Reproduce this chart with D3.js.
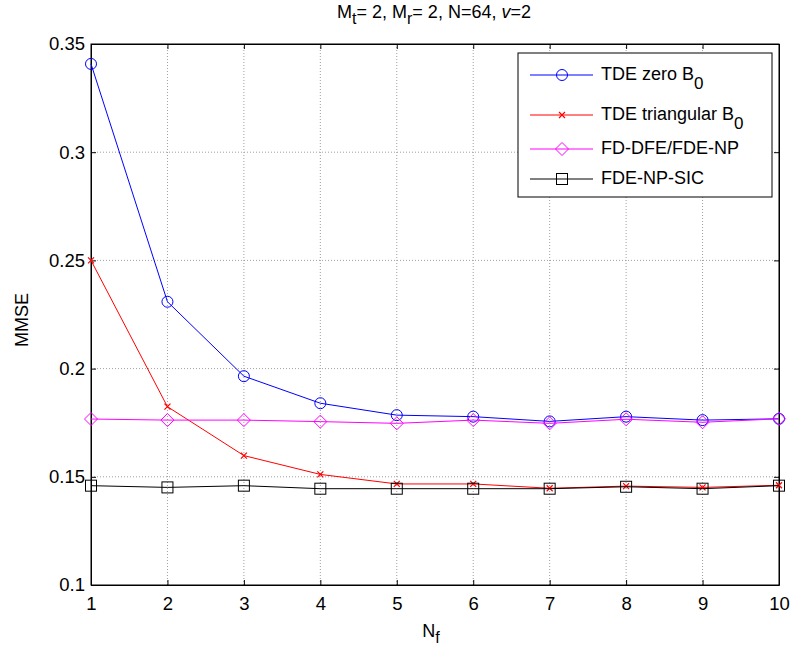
<!DOCTYPE html>
<html>
<head>
<meta charset="utf-8">
<script src="https://cdnjs.cloudflare.com/ajax/libs/d3/7.8.5/d3.min.js"></script>
<style>
  body { margin: 0; background: #fff; }
  text { font-family: "Liberation Sans", Arial, sans-serif; fill: #000; }
</style>
</head>
<body>
<div id="chart"></div>
<script>
// data
const nf = [1, 2, 3, 4, 5, 6, 7, 8, 9, 10];
const tdeZero = [0.3408, 0.2309, 0.1965, 0.1840, 0.1785, 0.1778, 0.1756, 0.1778, 0.1762, 0.1768];
const tdeTriangular = [0.2500, 0.1824, 0.1598, 0.1511, 0.1467, 0.1467, 0.1447, 0.1457, 0.1451, 0.1461];
const fdDfe = [0.1767, 0.1762, 0.1762, 0.1755, 0.1747, 0.1762, 0.1747, 0.1766, 0.1752, 0.1768];
const fdeSic = [0.1459, 0.1451, 0.1459, 0.1445, 0.1445, 0.1445, 0.1445, 0.1454, 0.1445, 0.1459];
const yTicks = [0.1, 0.15, 0.2, 0.25, 0.3, 0.35];
const yTickLabels = ["0.1", "0.15", "0.2", "0.25", "0.3", "0.35"];

const series = [
    {name: "TDE zero B", sub: "0", values: tdeZero, color: "#0000ff", marker: "circle"},
    {name: "TDE triangular B", sub: "0", values: tdeTriangular, color: "#ff0000", marker: "x"},
    {name: "FD-DFE/FDE-NP", sub: "", values: fdDfe, color: "#ff00ff", marker: "diamond"},
    {name: "FDE-NP-SIC", sub: "", values: fdeSic, color: "#000000", marker: "square"}
];

const W = 793, H = 654;
const margin = {top: 44, right: 14, bottom: 69, left: 91};
const width = W - margin.left - margin.right;
const height = H - margin.top - margin.bottom;

const svg = d3.select("#chart").append("svg")
    .attr("width", W)
    .attr("height", H);

const g = svg.append("g")
    .attr("transform", `translate(${margin.left},${margin.top})`);

// scales
const x = d3.scaleLinear().domain([1, 10]).range([0, width]);
const y = d3.scaleLinear().domain([0.1, 0.35]).range([height, 0]);

// grid
g.append("g").selectAll("line")
    .data(nf.slice(1, -1))
    .enter().append("line")
    .attr("x1", d => x(d)).attr("x2", d => x(d))
    .attr("y1", 0).attr("y2", height)
    .attr("stroke", "#888").attr("stroke-width", 0.8)
    .attr("stroke-dasharray", "1,2");

g.append("g").selectAll("line")
    .data(yTicks.slice(1, -1))
    .enter().append("line")
    .attr("x1", 0).attr("x2", width)
    .attr("y1", d => y(d)).attr("y2", d => y(d))
    .attr("stroke", "#888").attr("stroke-width", 0.8)
    .attr("stroke-dasharray", "1,2");

// axes (ticks inside, matlab style)
const xAxis = d3.axisBottom(x).tickValues(nf).tickFormat(d3.format("d"))
    .tickSizeInner(-5).tickSizeOuter(0).tickPadding(12);
const yAxis = d3.axisLeft(y).tickValues(yTicks).tickFormat((d, i) => yTickLabels[i])
    .tickSizeInner(-5).tickSizeOuter(0).tickPadding(6);

g.append("g").attr("class", "axis")
    .attr("transform", `translate(0,${height})`)
    .call(xAxis);
g.append("g").attr("class", "axis")
    .call(yAxis);
g.append("g").attr("class", "axis")
    .call(d3.axisTop(x).tickValues(nf).tickFormat("").tickSizeInner(-5).tickSizeOuter(0));
g.append("g").attr("class", "axis")
    .attr("transform", `translate(${width},0)`)
    .call(d3.axisRight(y).tickValues(yTicks).tickFormat("").tickSizeInner(-5).tickSizeOuter(0));

g.selectAll(".axis .domain").attr("stroke", "#000").attr("stroke-width", 1);
g.selectAll(".axis").attr("font-size", 18).attr("font-family", "Liberation Sans, Arial, sans-serif");
g.selectAll(".axis text").style("font-size", "18.5px");

g.append("rect")
    .attr("width", width).attr("height", height)
    .attr("fill", "none").attr("stroke", "#000").attr("stroke-width", 1);

// markers
function drawMarker(sel, type, color) {
    if (type === "circle") {
        sel.append("circle").attr("r", 5.5)
            .attr("fill", "none").attr("stroke", color).attr("stroke-width", 1);
    } else if (type === "square") {
        sel.append("rect").attr("x", -5.5).attr("y", -5.5).attr("width", 11).attr("height", 11)
            .attr("fill", "none").attr("stroke", color).attr("stroke-width", 1);
    } else if (type === "diamond") {
        sel.append("path").attr("d", "M0,-6.5L6.5,0L0,6.5L-6.5,0Z")
            .attr("fill", "none").attr("stroke", color).attr("stroke-width", 1);
    } else if (type === "x") {
        sel.append("path").attr("d", "M-3,-3L3,3M-3,3L3,-3")
            .attr("fill", "none").attr("stroke", color).attr("stroke-width", 1.2);
    }
}

const line = d3.line().x((d, i) => x(nf[i])).y(d => y(d));

series.forEach(s => {
    g.append("path")
        .datum(s.values)
        .attr("d", line)
        .attr("fill", "none")
        .attr("stroke", s.color)
        .attr("stroke-width", 1);

    g.append("g").selectAll("g")
        .data(s.values)
        .enter().append("g")
        .attr("transform", (d, i) => `translate(${x(nf[i])},${y(d)})`)
        .each(function() { drawMarker(d3.select(this), s.marker, s.color); });
});

// legend
const legend = svg.append("g").attr("transform", "translate(518,53)");
legend.append("rect")
    .attr("width", 254).attr("height", 144)
    .attr("fill", "#fff").attr("stroke", "#000").attr("stroke-width", 1);

const legendY = [22, 62, 96, 126];
series.forEach((s, i) => {
    const row = legend.append("g").attr("transform", `translate(0,${legendY[i]})`);
    row.append("line").attr("x1", 12).attr("x2", 75).attr("y1", 0).attr("y2", 0)
        .attr("stroke", s.color).attr("stroke-width", 1);
    drawMarker(row.append("g").attr("transform", "translate(44,0)"), s.marker, s.color);
    const t = row.append("text").attr("x", 83).attr("y", 5).style("font-size", "18px");
    t.append("tspan").text(s.name);
    if (s.sub) {
        t.append("tspan").attr("dy", 9).style("font-size", "17px").text(s.sub);
    }
});

// title
const title = svg.append("text")
    .attr("x", 434).attr("y", 18)
    .attr("text-anchor", "middle")
    .style("font-size", "18px");
title.append("tspan").text("M");
title.append("tspan").attr("dy", 6).style("font-size", "16px").text("t");
title.append("tspan").attr("dy", -6).text("= 2, M");
title.append("tspan").attr("dy", 6).style("font-size", "16px").text("r");
title.append("tspan").attr("dy", -6).text("= 2, N=64, ");
title.append("tspan").style("font-style", "italic").text("v");
title.append("tspan").text("=2");

// axis labels
const xl = svg.append("text")
    .attr("x", 431).attr("y", 637)
    .attr("text-anchor", "middle")
    .style("font-size", "18px");
xl.append("tspan").text("N");
xl.append("tspan").attr("dy", 6).style("font-size", "16px").text("f");

svg.append("text")
    .attr("transform", "translate(28,320) rotate(-90)")
    .attr("text-anchor", "middle")
    .style("font-size", "18px")
    .text("MMSE");
</script>
</body>
</html>
